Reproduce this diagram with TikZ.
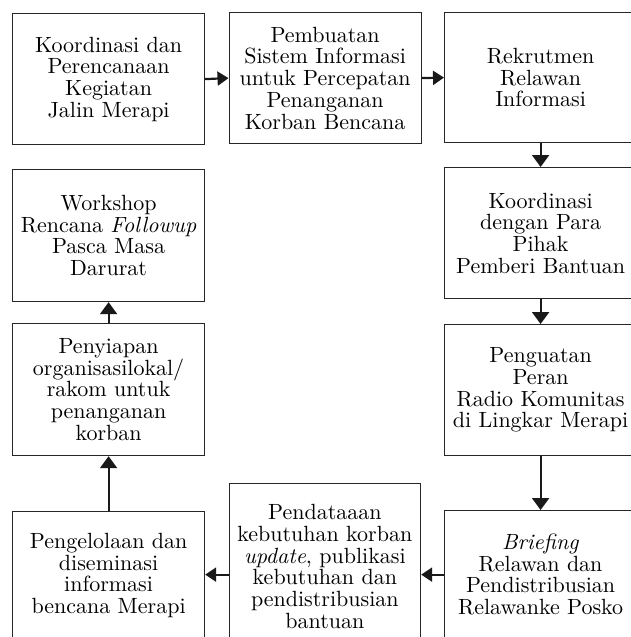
\documentclass[tikz,border=0pt]{standalone}
\usepackage{fontspec}
\setmainfont{lmroman10}[Extension=.otf,UprightFont=*-regular,ItalicFont=*-italic]
\usetikzlibrary{arrows.meta}
\begin{document}
\begin{tikzpicture}[x=1pt,y=-1pt,
  box/.style={draw=black!85,line width=1.2pt,anchor=north west,inner sep=0pt,
    text width=188pt,align=center,font=\fontsize{22}{21.7}\selectfont},
  arr/.style={line width=2.2pt,draw=black!90,-{Triangle[width=14pt,length=11pt]}},
  varr/.style={arr,-{Triangle[width=17pt,length=12pt]}}]
\useasboundingbox (0,0) rectangle (631,637);
\clip (0,0) rectangle (631,637);
\node[box,minimum width=192pt,minimum height=131pt] (b1) at (12,13)
  {Koordinasi dan\\Perencanaan\\Kegiatan\\Jalin Merapi};
\node[box,minimum width=192pt,minimum height=131pt] (b2) at (228.5,12)
  {Pembuatan\\Sistem Informasi\\untuk Percepatan\\Penanganan\\Korban Bencana};
\node[box,minimum width=192pt,minimum height=130pt] (b3) at (444,12)
  {Rekrutmen\\Relawan\\Informasi};
\node[box,minimum width=192pt,minimum height=131pt] (b4) at (444,167)
  {Koordinasi\\dengan Para\\Pihak\\Pemberi Bantuan\\[8pt]};
\node[box,minimum width=192pt,minimum height=131pt] (b5) at (444,324)
  {Penguatan\\Peran\\Radio Komunitas\\di Lingkar Merapi};
\node[box,minimum width=192pt,minimum height=128pt] (b6) at (444,510)
  {\textit{Briefing}\\Relawan dan\\Pendistribusian\\Relawanke Posko};
\node[box,minimum width=191.5pt,minimum height=166pt] (b7) at (228.5,483)
  {Pendataaan\\kebutuhan korban\\\textit{update}, publikasi\\kebutuhan dan\\pendistribusian\\bantuan};
\node[box,minimum width=192pt,minimum height=128pt] (b8) at (12,511)
  {Pengelolaan dan\\diseminasi\\informasi\\bencana Merapi};
\node[box,minimum width=192pt,minimum height=132pt] (b9) at (12,323)
  {Penyiapan\\organisasilokal/\\rakom untuk\\penanganan\\korban};
\node[box,minimum width=192pt,minimum height=132pt] (b10) at (12,169)
  {Workshop\\Rencana \textit{Followup}\\Pasca Masa\\Darurat\\[6pt]};
\draw[arr] (b1.east) -- (b2.west);
\draw[arr] (b2.east) -- (b3.west);
\draw[varr] (b3.south) -- (b4.north);
\draw[varr] (b4.south) -- (b5.north);
\draw[varr] (b5.south) -- (b6.north);
\draw[arr] (b6.west) -- (b7.east |- b6.west);
\draw[arr] (b7.west |- b6.west) -- (b8.east |- b6.west);
\draw[varr] (b8.north) -- (b9.south);
\draw[varr] (b9.north) -- (b10.south);
\end{tikzpicture}
\end{document}
